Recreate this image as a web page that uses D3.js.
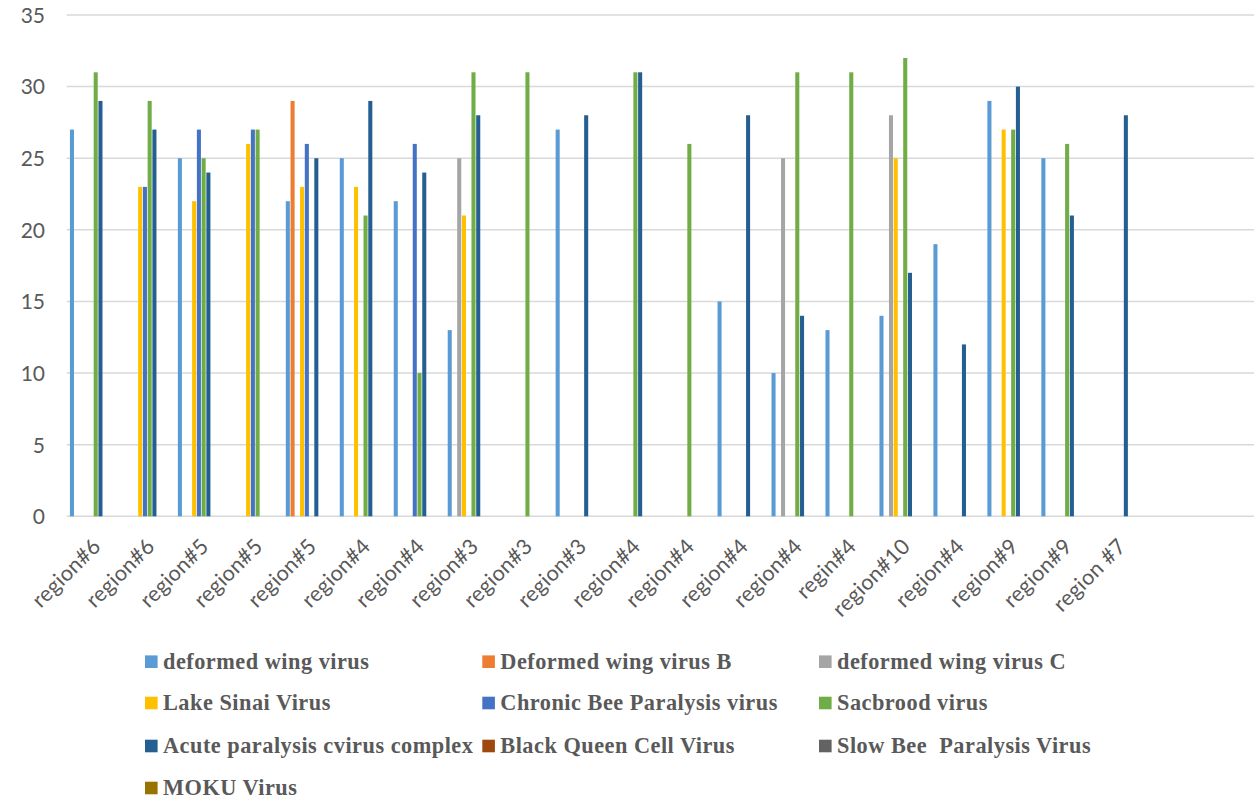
<!DOCTYPE html>
<html>
<head>
<meta charset="utf-8">
<script src="https://cdn.jsdelivr.net/npm/d3@7"></script>
<style>
  html, body { margin: 0; padding: 0; background: #fff; }
  svg { display: block; }
</style>
</head>
<body>
<svg id="chart" width="1255" height="802"></svg>
<script>
// ---- data ----
const categories = ["region#6","region#6","region#5","region#5","region#5","region#4","region#4","region#3","region#3","region#3","region#4","region#4","region#4","region#4","regin#4","region#10","region#4","region#9","region#9","region #7","",""];
const seriesNames = ["deformed wing virus","Deformed wing virus B","deformed wing virus C","Lake Sinai Virus","Chronic Bee Paralysis virus","Sacbrood virus","Acute paralysis cvirus complex","Black Queen Cell Virus","Slow Bee  Paralysis Virus","MOKU Virus"];
const seriesColors = ["#5B9BD5","#ED7D31","#A5A5A5","#FFC000","#4472C4","#70AD47","#255E91","#9E480E","#636363","#997300"];
const yTicks = [0,5,10,15,20,25,30,35];
const N = null;
const dwv   = [27,N,25,N,22,25,22,13,N,27,N,N,15,10,13,14,19,29,25,N,N,N];
const dwvB  = [N,N,N,N,29,N,N,N,N,N,N,N,N,N,N,N,N,N,N,N,N,N];
const dwvC  = [N,N,N,N,N,N,N,25,N,N,N,N,N,25,N,28,N,N,N,N,N,N];
const lsv   = [N,23,22,26,23,23,N,21,N,N,N,N,N,N,N,25,N,27,N,N,N,N];
const cbpv  = [N,23,27,27,26,N,26,N,N,N,N,N,N,N,N,N,N,N,N,N,N,N];
const sbv   = [31,29,25,27,N,21,10,31,31,N,31,26,N,31,31,32,N,27,26,N,N,N];
const apv   = [29,27,24,N,25,29,24,28,N,28,31,N,28,14,N,17,12,30,21,28,N,N];
const bqcv  = [N,N,N,N,N,N,N,N,N,N,N,N,N,N,N,N,N,N,N,N,N,N];
const sbpv  = [N,N,N,N,N,N,N,N,N,N,N,N,N,N,N,N,N,N,N,N,N,N];
const moku  = [N,N,N,N,N,N,N,N,N,N,N,N,N,N,N,N,N,N,N,N,N,N];
const seriesValues = [dwv,dwvB,dwvC,lsv,cbpv,sbv,apv,bqcv,sbpv,moku];

// ---- layout ----
const svg = d3.select("#chart");
const plot = {left: 66.7, right: 1254, top: 15, bottom: 516.3};
const axisFont = "Lato, 'Open Sans', sans-serif";
const textColor = "#595959";

const x0 = d3.scaleBand().domain(d3.range(categories.length)).range([plot.left, plot.right]).paddingInner(0).paddingOuter(0);
const x1 = d3.scaleBand().domain(d3.range(seriesNames.length)).range([0, x0.bandwidth()]).paddingInner(0).paddingOuter(0.68);
const y = d3.scaleLinear().domain([0, 35]).range([plot.bottom, plot.top]);

// gridlines
svg.append("g").selectAll("line").data(yTicks).join("line")
  .attr("x1", plot.left).attr("x2", plot.right)
  .attr("y1", d => y(d)).attr("y2", d => y(d))
  .attr("stroke", "#d9d9d9").attr("stroke-width", 1.5);

// y axis labels
const yAxis = d3.axisLeft(y).tickValues(yTicks).tickSize(0).tickPadding(0);
const gy = svg.append("g").attr("transform", `translate(45,0)`).call(yAxis);
gy.select(".domain").remove();
gy.selectAll("text").attr("font-family", axisFont).attr("font-size", 21).attr("fill", textColor).attr("dy", "0.35em");

// bars
const barData = [];
seriesValues.forEach((arr, s) => arr.forEach((v, c) => { if (v != null) barData.push({s, c, v}); }));
svg.append("g").selectAll("rect").data(barData).join("rect")
  .attr("x", d => x0(d.c) + x1(d.s))
  .attr("width", x1.bandwidth() - 0.7)
  .attr("y", d => y(d.v))
  .attr("height", d => y(0) - y(d.v))
  .attr("fill", d => seriesColors[d.s]);

// x axis
const xAxis = d3.axisBottom(x0).tickSize(0).tickFormat(i => categories[i]);
const gx = svg.append("g").attr("transform", `translate(0,${plot.bottom})`).call(xAxis);
gx.select(".domain").remove();
gx.selectAll("text")
  .attr("font-family", axisFont).attr("font-size", 21.5).attr("fill", textColor)
  .attr("text-anchor", "end")
  .attr("dy", "0.35em")
  .attr("letter-spacing", 0.3)
  .style("white-space", "pre")
  .attr("transform", "translate(3,26) rotate(-45)")
  .attr("y", 0).attr("x", 0);

// legend
const legendFont = "'Liberation Serif', 'DejaVu Serif', serif";
const legCols = [145, 482.3, 819];
const legRows = [661.7, 703, 746, 788];
const lg = svg.append("g").selectAll("g").data(seriesNames).join("g")
  .attr("transform", (d, i) => `translate(${legCols[i % 3]},${legRows[Math.floor(i / 3)]})`);
lg.append("rect").attr("x", 0).attr("y", -6.3).attr("width", 12.6).attr("height", 12.6)
  .attr("fill", (d, i) => seriesColors[i]);
lg.append("text").attr("x", 18).attr("y", 0).attr("dy", "0.32em")
  .attr("font-family", legendFont).attr("font-weight", "bold").attr("font-size", 22.3)
  .attr("letter-spacing", 0.5)
  .style("white-space", "pre")
  .attr("fill", textColor).text(d => d);
</script>
</body>
</html>
